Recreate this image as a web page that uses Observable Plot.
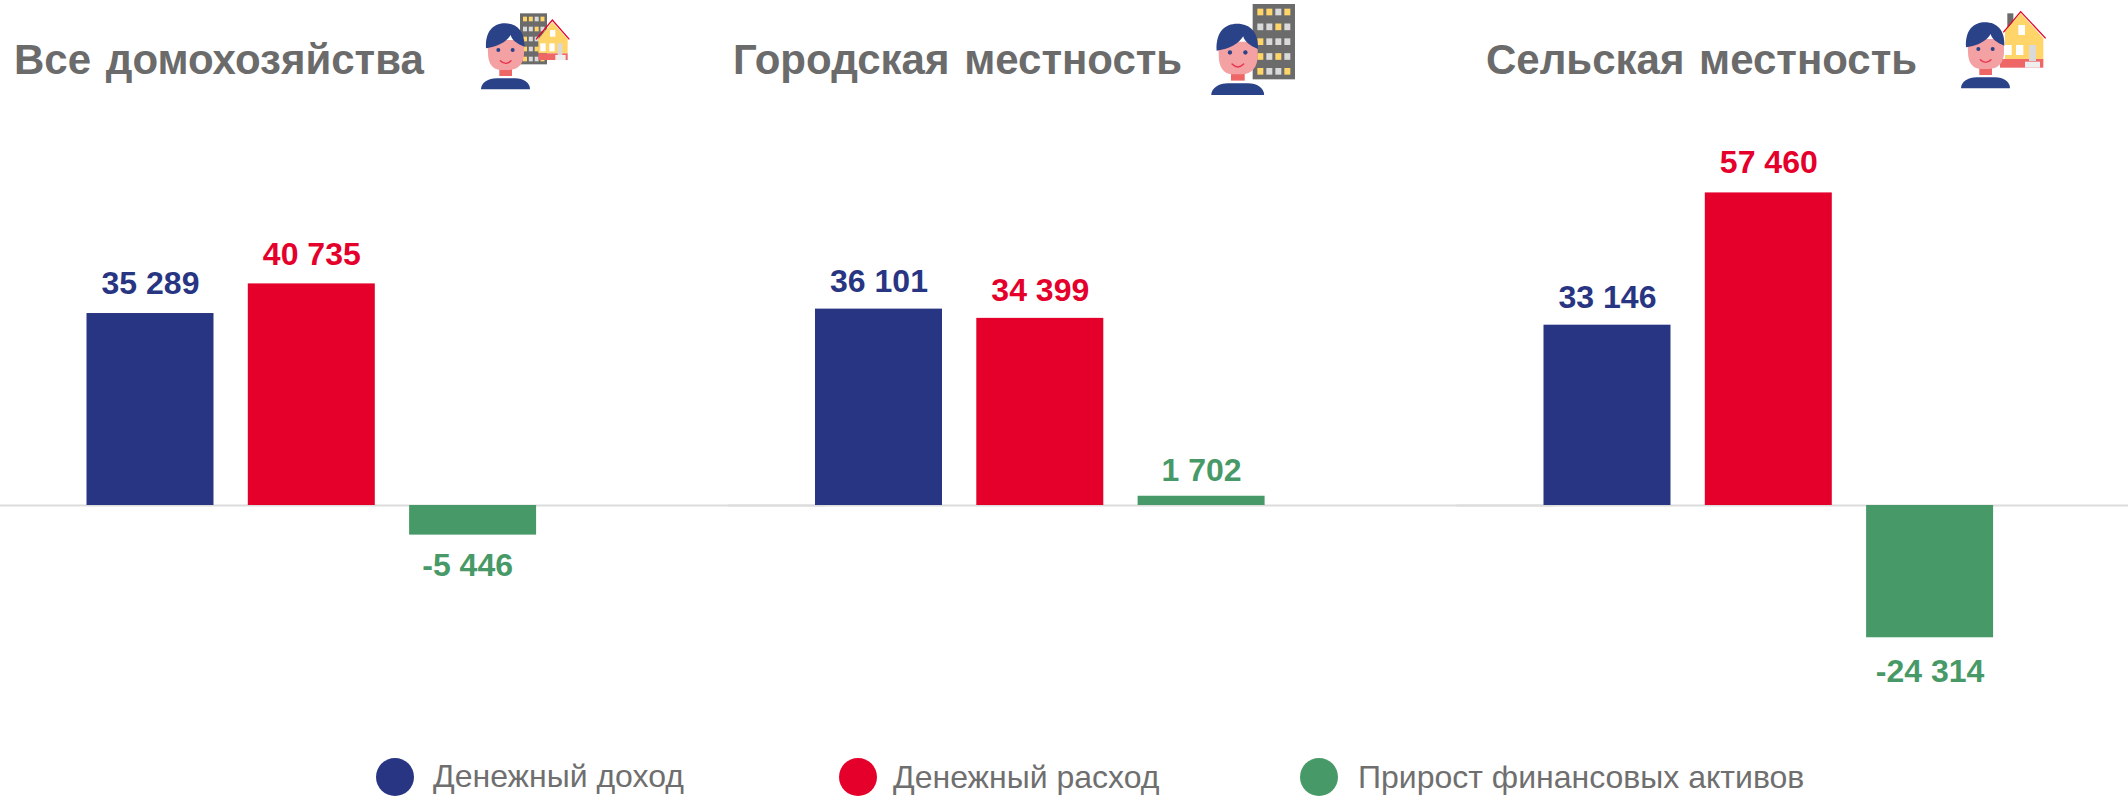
<!DOCTYPE html>
<html lang="ru">
<head>
<meta charset="utf-8">
<script src="https://cdn.jsdelivr.net/npm/d3@7"></script>
<script src="https://cdn.jsdelivr.net/npm/@observablehq/plot@0.6"></script>
<style>
html,body{margin:0;padding:0;background:#fff;width:2128px;height:796px;overflow:hidden;font-family:"Liberation Sans",Arial,sans-serif}
#page{position:relative;width:2128px;height:796px;overflow:hidden}
.title{position:absolute;top:36px;font-size:42px;line-height:48px;font-weight:700;color:#6b6b6b;white-space:nowrap;word-spacing:3px}
.icon{position:absolute}
.lg{position:absolute;width:38px;height:38px;border-radius:50%}
.lt{position:absolute;font-size:32px;line-height:30px;color:#6f6f6f;white-space:nowrap}
#chart{position:absolute;left:0;top:101px}
#chart svg{display:block;overflow:visible}
</style>
</head>
<body>
<div id="page"><div id="chart"></div></div>
<script>
const groups = ["Все домохозяйства", "Городская местность", "Сельская местность"];
const seriesNames = ["Денежный доход", "Денежный расход", "Прирост финансовых активов"];
const seriesColors = ["#283583", "#E4002B", "#479A67"];
const income = [35289, 36101, 33146];
const expense = [40735, 34399, 57460];
const growth = [-5446, 1702, -24314];

const rows = groups.flatMap((g, i) => [
  {group: g, series: seriesNames[0], value: income[i]},
  {group: g, series: seriesNames[1], value: expense[i]},
  {group: g, series: seriesNames[2], value: growth[i]}
]);
const fmt = v => String(v).replace(/\B(?=(\d{3})+(?!\d))/g, " ");

// label nudges as they sit in the reference
const labelDy = new Map([[35289,-20],[40735,-19],[57460,-20],[36101,-17],[34399,-17],[33146,-17],[1702,-15],[-5446,18],[-24314,21]]);
const labelDx = new Map([[-5446,-5.5]]);

const labelMarks = rows.map(d => Plot.text([d], {
  x: "series", y: "value", fx: "group", text: r => fmt(r.value), fill: "series",
  fontSize: 32, fontWeight: 700, fontFamily: "Liberation Sans, Arial, sans-serif",
  lineAnchor: d.value >= 0 ? "bottom" : "top",
  dy: labelDy.get(d.value), dx: labelDx.get(d.value) ?? 0
}));

const chart = Plot.plot({
  width: 2128, height: 630,
  marginLeft: 0, marginRight: 0, marginTop: 0, marginBottom: 0,
  style: {background: "transparent", overflow: "visible"},
  fx: {domain: groups, range: [86.5, 86.5 + 2185.5], padding: 0, round: false, axis: null},
  x: {domain: seriesNames, range: [0, 449.6], paddingInner: 0.2127, paddingOuter: 0, round: false, axis: null},
  y: {domain: [-41544, 74265], range: [630, 0], axis: null},
  color: {domain: seriesNames, range: seriesColors},
  marks: [
    Plot.ruleY([0], {stroke: "#dcdcdc", strokeWidth: 2, insetLeft: -87, insetRight: -10}),
    Plot.barY(rows, {x: "series", y: "value", fx: "group", fill: "series"}),
    ...labelMarks
  ]
});
document.getElementById("chart").appendChild(chart);

const page = document.getElementById("page");
const titleLeft = [14, 733, 1486];
groups.forEach((g, i) => {
  const t = document.createElement("div");
  t.className = "title"; t.textContent = g; t.style.left = titleLeft[i] + "px";
  page.appendChild(t);
});

const legendCircle = [376, 839, 1300];
const legendText = [433, 893, 1358];
const legendTop = [758, 758, 758];
const legendTextTop = [761, 762, 762];
seriesNames.forEach((s, i) => {
  const c = document.createElement("div");
  c.className = "lg"; c.style.left = legendCircle[i] + "px"; c.style.top = legendTop[i] + "px";
  c.style.background = seriesColors[i];
  page.appendChild(c);
  const t = document.createElement("div");
  t.className = "lt"; t.textContent = s; t.style.left = legendText[i] + "px"; t.style.top = legendTextTop[i] + "px";
  page.appendChild(t);
});

const person = `
  <path d="M33 238C33 218 55 205 80 205H135C160 205 180 218 180 238Z" fill="#2A4288"/>
  <rect x="88" y="175" width="38" height="23" fill="#EE6666"/>
  <path d="M52 90H162V130C162 160 145 180 118 180H92C68 180 54 160 54 130Z" fill="#F4A1A3"/>
  <path d="M48 115C45 62 72 40 105 40C142 40 165 65 163 110C142 102 125 90 122 75C110 95 85 110 48 115Z" fill="#2A4288"/>
  <circle cx="85" cy="120" r="6" fill="#2A4288"/><circle cx="128" cy="120" r="6" fill="#2A4288"/>
  <path d="M91 152Q107 168 123 152" fill="none" stroke="#E8344E" stroke-width="4" stroke-linecap="round"/>`;
const win = (x, y, w, h, f) => `<rect x="${x}" y="${y}" width="${w}" height="${h}" fill="${f}"/>`;
const Y = "#FFD469", G = "#D9D9D9";
const tower1 = `<rect x="150" y="10" width="81" height="153" fill="#6B6B6B"/>` +
  [[Y,Y,G,Y],[G,G,Y,G],[Y,G,G,G],[Y,G,Y,G],[Y,G,G,Y]].map((r, j) =>
    r.map((f, k) => win(159 + k * 17.5, 20 + j * 30, 12, 14, f)).join("")).join("");
const tower2 = `<rect x="158" y="12" width="127" height="226" fill="#6B6B6B"/>` +
  [[Y,Y,G,Y],[G,G,Y,G],[Y,G,G,G],[Y,G,Y,G],[Y,G,G,Y]].map((r, j) =>
    r.map((f, k) => win(172 + k * 27, 26 + j * 44.5, 18, 20, f)).join("")).join("");
const house1 = `<path d="M205 88L247 36L293 88V130H205Z" fill="#FFD469"/><rect x="205" y="130" width="88" height="20" fill="#EE6666"/>
  <path d="M198 88L247 30L298 88" fill="none" stroke="#E4002B" stroke-width="4"/>
  ${win(240,60,16,20,"#fff")}${win(211,100,16,24,"#fff")}${win(238,100,16,24,"#fff")}${win(263,100,14,35,G)}${win(256,135,31,15,"#eee")}`;
const house3 = `<rect x="172" y="25" width="18" height="50" fill="#6B6B6B"/>
  <path d="M165 78L212 24L280 100V165H165Z" fill="#FFD469"/><rect x="150" y="162" width="130" height="26" fill="#EE6666"/>
  <path d="M160 82L212 20L287 100" fill="none" stroke="#E4002B" stroke-width="4"/>
  ${win(205,60,20,30,"#fff")}${win(162,120,23,30,"#fff")}${win(198,120,22,30,"#fff")}${win(237,120,21,48,G)}${win(225,170,45,18,"#eee")}`;
const icons = [
  {left: 470, top: 10, w: 110, h: 90, body: tower1 + house1 + person},
  {left: 1200, top: 0, w: 110, h: 100, body: tower2 + `<g transform="translate(-2 28) scale(1.08)">${person}</g>`},
  {left: 1950, top: 5, w: 110, h: 90, body: house3 + `<g transform="translate(0 12)">${person}</g>`}
];
icons.forEach(ic => {
  const d = document.createElement("div");
  d.className = "icon"; d.style.left = ic.left + "px"; d.style.top = ic.top + "px";
  d.innerHTML = `<svg width="${ic.w}" height="${ic.h}" viewBox="0 0 ${ic.w * 3} ${ic.h * 3}">${ic.body}</svg>`;
  page.appendChild(d);
});
</script>
</body>
</html>
